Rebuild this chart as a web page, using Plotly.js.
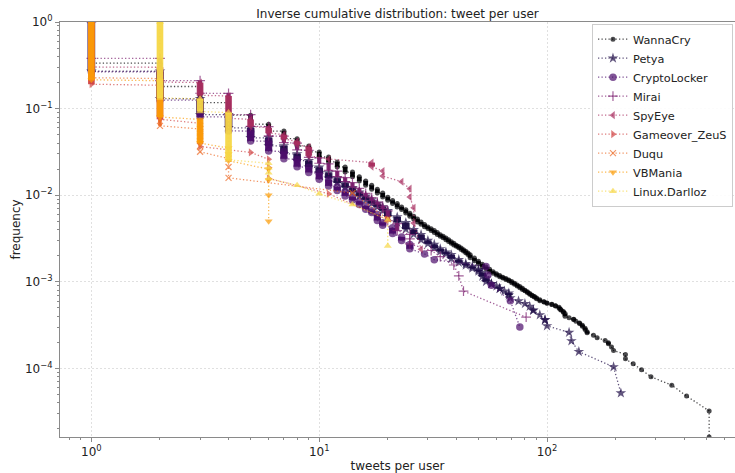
<!DOCTYPE html>
<html><head><meta charset="utf-8">
<script src="https://cdn.plot.ly/plotly-3.0.1.min.js"></script>
<style>html,body{margin:0;padding:0;background:#fff;overflow:hidden}#chart{width:735px;height:473px}</style>
</head><body><div id="chart"></div>
<script>
// ---------------- DATA ----------------
const seriesNames = ["WannaCry","Petya","CryptoLocker","Mirai","SpyEye","Gameover_ZeuS","Duqu","VBMania","Linux.Darlloz"];

// x = tweets per user, y = fraction of users with at least x tweets, users = number of users
const wannacryX = [1,2,3,4,5,6,7,8,9,10,11,12,13,14,15,16,17,18,19,20,21,22,23,24,25,26,27,28,29,30,31,32,33,34,35,36,37,38,39,40,41,42,43,44,45,46,48,50,52,54,56,58,60,62,64,66,68,70,72,74,76,78,80,82,84,86,88,90,93,97,100,105,109,113,115,118,120,125,131,134,139,143,147,150,160,166,180,186,192,196,221,239,260,286,353,410,515];
const wannacryY = [1,0.335,0.18,0.117,0.084,0.066,0.055,0.045,0.037,0.0316,0.0276,0.0242,0.0212,0.0185,0.0163,0.0146,0.013,0.0117,0.0106,0.0095,0.0087,0.008,0.0073,0.0068,0.0062,0.0057,0.0053,0.0049,0.0046,0.0043,0.0041,0.0039,0.0037,0.0035,0.00335,0.0032,0.00305,0.0029,0.00278,0.00265,0.00255,0.00245,0.00235,0.00225,0.00215,0.00205,0.00188,0.00173,0.0016,0.00148,0.0014,0.00131,0.00124,0.00118,0.00113,0.00109,0.00105,0.00101,0.00096,0.00092,0.00088,0.00084,0.0008,0.00077,0.000735,0.0007,0.000675,0.00065,0.00062,0.00059,0.00057,0.00055,0.00053,0.00051,0.00048,0.000455,0.00043,0.000385,0.00037,0.00035,0.000335,0.000315,0.00029,0.000265,0.000242,0.000226,0.00021,0.000198,0.000177,0.000161,0.000145,0.000113,0.000097,0.00008,0.000064,0.000048,0.000032];
const wannacryUsers = 62000;

const petyaX = [1,2,3,4,5,6,7,8,9,10,11,12,13,14,15,16,17,18,19,20,22,24,26,28,30,32,34,36,38,41,44,47,50,52,54,57,60,62,65,68,69,75,80,84,87,93,98,100,125,128,138,196,211];
const petyaY = [1,0.27,0.13,0.085,0.06,0.046,0.037,0.03,0.025,0.021,0.018,0.0157,0.0138,0.0122,0.0108,0.0097,0.0088,0.008,0.0073,0.0066,0.0056,0.0048,0.004,0.0035,0.003,0.0027,0.0024,0.0022,0.00205,0.0018,0.00162,0.0015,0.00138,0.00127,0.0011,0.00095,0.00089,0.00084,0.00078,0.00074,0.00065,0.0006,0.00056,0.00052,0.00047,0.000415,0.000365,0.00031,0.00026,0.000208,0.000156,0.000104,0.000052];
const petyaUsers = 19200;

const cryptolockerX = [1,2,3,4,5,6,7,8,9,10,11,12,13,14,15,16,17,18,19,21,23,25,29,32,54,55,57,69,76];
const cryptolockerY = [1,0.265,0.125,0.08,0.055,0.042,0.032,0.026,0.021,0.018,0.015,0.0125,0.011,0.0095,0.0085,0.0075,0.0066,0.006,0.0048,0.0042,0.0033,0.0027,0.0021,0.0018,0.0015,0.0012,0.00091,0.00061,0.0003];
const cryptolockerUsers = 3300;

const miraiX = [1,2,3,4,5,6,7,8,9,10,11,12,13,14,15,16,17,18,19,20,22,25,31,34,39,41,43,81];
const miraiY = [1,0.38,0.21,0.15,0.085,0.062,0.048,0.04,0.033,0.027,0.023,0.019,0.016,0.014,0.012,0.0105,0.0094,0.0083,0.0075,0.0066,0.0047,0.0035,0.0023,0.002,0.0016,0.00117,0.00078,0.00039];
const miraiUsers = 2560;

const spyeyeX = [1,2,3,4,5,6,7,8,9,11,17,19,23,25,26,28];
const spyeyeY = [1,0.3,0.2,0.14,0.075,0.06,0.05,0.042,0.036,0.0262,0.0238,0.019,0.0143,0.0119,0.0071,0.0024];
const spyeyeUsers = 420;

const gameoverX = [1,2,3,5,6,11,20];
const gameoverY = [1,0.186,0.07,0.0312,0.026,0.0104,0.0052];
const gameoverUsers = 192;

const duquX = [1,2,3,4,14,20];
const duquY = [1,0.222,0.058,0.026,0.0106,0.0053];
const duquUsers = 189;

const vbmaniaX = [1,2,3,4,6];
const vbmaniaY = [1,0.21,0.075,0.035,0.02];
const vbmaniaUsers = 200;

const linuxX = [2,3,4,6,8,10,14,20];
const linuxY = [1,0.13,0.09,0.023,0.013,0.0104,0.0078,0.0052];
const linuxUsers = 385;

const xTickVals = [1,10,100];
const xTickText = ["10<sup>0</sup>","10<sup>1</sup>","10<sup>2</sup>"];
const yTickVals = [1e-4,1e-3,1e-2,1e-1,1];
const yTickText = ["10<sup>\u22124</sup>","10<sup>\u22123</sup>","10<sup>\u22122</sup>","10<sup>\u22121</sup>","10<sup>0</sup>"];

// ---------------- STYLE / LAYOUT ----------------
const W = 735, H = 473;
const M = {l: 60, r: 0, t: 22, b: 36};
const xRange = [-0.1378, 2.8253];
const yRange = [-4.792, 0];
const pxPerDecY = (H - M.t - M.b) / (yRange[1] - yRange[0]);

const data = [
  [wannacryX, wannacryY, wannacryUsers],
  [petyaX, petyaY, petyaUsers],
  [cryptolockerX, cryptolockerY, cryptolockerUsers],
  [miraiX, miraiY, miraiUsers],
  [spyeyeX, spyeyeY, spyeyeUsers],
  [gameoverX, gameoverY, gameoverUsers],
  [duquX, duquY, duquUsers],
  [vbmaniaX, vbmaniaY, vbmaniaUsers],
  [linuxX, linuxY, linuxUsers]
];
const colors = ["0,0,4","30,12,70","76,13,107","122,29,109","168,46,95","208,69,69","237,105,37","251,155,6","246,215,70"];
const symbols = ["circle","star","circle","cross-thin","triangle-left","triangle-right","x-thin","triangle-down","triangle-up"];
const sizes = [5,8,7.5,7,7,7,6,7,7];
const alpha = 0.7;

// one point per user, as in the original: users with the same count stack in a column
function points(X, Y, n, msize) {
  const px = [], py = [], err = [];
  for (let i = 0; i < X.length; i++) {
    const top = Y[i];
    const bot = i + 1 < X.length ? Y[i + 1] + 1 / n : 1 / n;
    if (bot >= top * 0.999) { px.push(X[i]); py.push(top); err.push(0); continue; }
    const step = (Math.log10(bot + 1 / n) - Math.log10(bot)) * pxPerDecY;
    if (step < msize * 0.7) {
      px.push(X[i], X[i]); py.push(top, bot); err.push(0, top - bot);
    } else {
      const kTop = Math.round(top * n), kBot = Math.max(1, Math.round(bot * n));
      for (let k = kTop; k >= kBot; k--) { px.push(X[i]); py.push(k / n); err.push(0); }
    }
  }
  return {px, py, err};
}

const traces = data.map((d, i) => {
  const p = points(d[0], d[1], d[2], sizes[i]);
  const c = colors[i];
  const lineMarker = symbols[i].indexOf("thin") >= 0;
  return {
    type: "scatter", mode: "lines+markers", name: seriesNames[i],
    x: p.px, y: p.py,
    line: {color: `rgba(${c},${alpha})`, width: 1.3, dash: "1.3px,2.2px"},
    marker: {symbol: symbols[i], size: sizes[i],
      color: `rgba(${c},${alpha})`,
      line: lineMarker ? {color: `rgba(${c},${alpha})`, width: 1.2} : {width: 0}},
    error_y: {type: "data", symmetric: false, array: p.err, arrayminus: p.err.map(() => 0),
      color: `rgba(${c},0.95)`, thickness: lineMarker ? sizes[i] * 0.6 : sizes[i] * 0.95, width: 0},
    hoverinfo: "x+y"
  };
});

const axisCommon = {
  type: "log", showline: true, linecolor: "#8a8a8a", linewidth: 1,
  ticks: "outside", ticklen: 4, tickwidth: 1, tickcolor: "#8a8a8a",
  showgrid: true, gridcolor: "#e0e0e0", gridwidth: 1, griddash: "2px,2px",
  zeroline: false, tickmode: "array",
  tickfont: {family: "DejaVu Sans", size: 12, color: "#222"}
};
const minorVals = (lo, hi) => { const v = []; for (let e = lo; e <= hi; e++) for (let m = 2; m <= 9; m++) v.push(m * Math.pow(10, e)); return v; };

const layout = {
  width: W, height: H, margin: M, paper_bgcolor: "#fff", plot_bgcolor: "#fff",
  font: {family: "DejaVu Sans", size: 12, color: "#222"},
  title: {text: "Inverse cumulative distribution: tweet per user", font: {size: 12, color: "#222"},
    x: 0.5, xref: "paper", y: 1 - 14 / H, yref: "container", yanchor: "middle"},
  showlegend: true,
  legend: {x: 0.997, xanchor: "right", y: 0.996, yanchor: "top", bgcolor: "rgba(255,255,255,0.9)",
    bordercolor: "#cccccc", borderwidth: 1, font: {size: 11.3}, tracegroupgap: 0, itemwidth: 30},
  xaxis: Object.assign({}, axisCommon, {range: xRange, mirror: true,
    tickvals: xTickVals, ticktext: xTickText,
    minor: {tickmode: "array", tickvals: [0.8, 0.9].concat(minorVals(0, 2)), ticks: "outside", ticklen: 2, tickcolor: "#8a8a8a", showgrid: false},
    title: {text: "tweets per user", font: {size: 12}, standoff: 3}}),
  yaxis: Object.assign({}, axisCommon, {range: yRange,
    tickvals: yTickVals, ticktext: yTickText,
    minor: {tickmode: "array", tickvals: minorVals(-5, -1), ticks: "outside", ticklen: 2, tickcolor: "#8a8a8a", showgrid: false},
    title: {text: "frequency", font: {size: 12}, standoff: 1}})
};

Plotly.newPlot("chart", traces, layout, {displayModeBar: false, staticPlot: true});
</script></body></html>
